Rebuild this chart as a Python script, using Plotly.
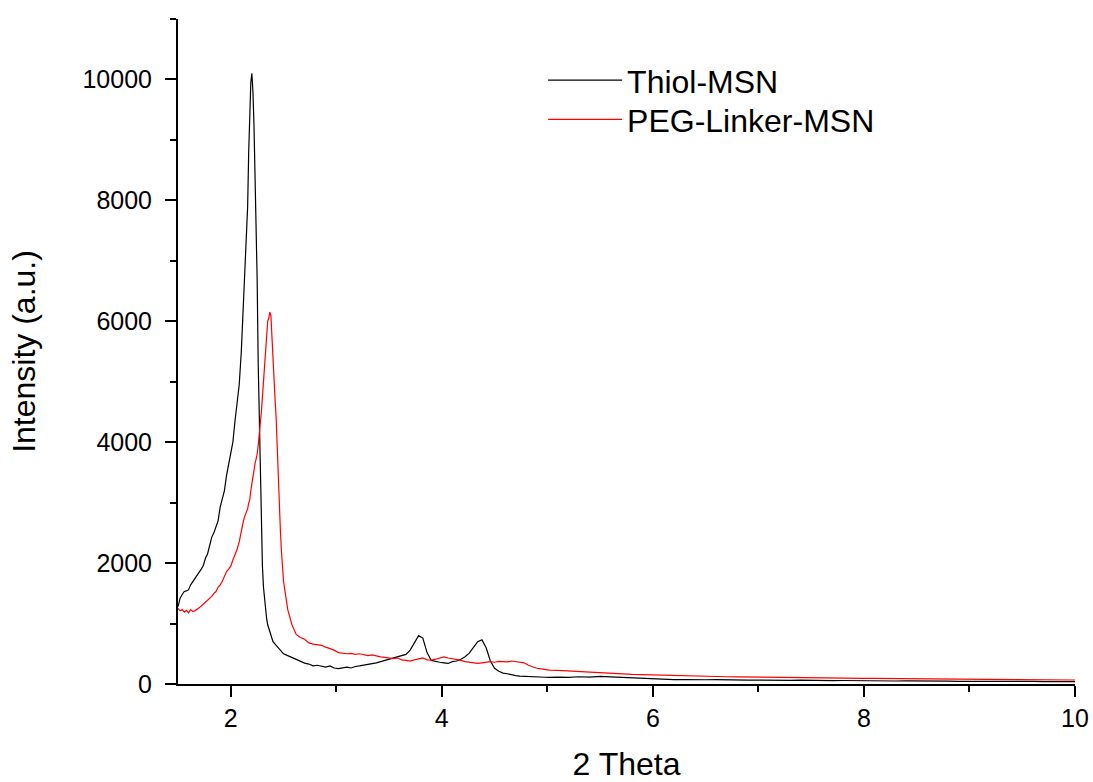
import plotly.graph_objects as go

# ---- data ----
x_a = [1.50, 1.52, 1.54, 1.56, 1.58, 1.60, 1.62, 1.64, 1.66, 1.68,
       1.70, 1.72, 1.74, 1.76, 1.78, 1.80, 1.82, 1.84, 1.86, 1.88,
       1.90, 1.92, 1.94, 1.96, 1.98, 2.00, 2.02, 2.04, 2.06, 2.08]
x_b = [2.10, 2.11, 2.12, 2.13, 2.14, 2.15, 2.16, 2.17, 2.18, 2.19,
       2.20,
       2.21, 2.22, 2.23, 2.24, 2.25, 2.26, 2.27, 2.28, 2.29, 2.30,
       2.31, 2.32, 2.33, 2.34, 2.35, 2.36, 2.37, 2.38, 2.39, 2.40,
       2.41, 2.42, 2.43, 2.44, 2.45, 2.46, 2.47, 2.48, 2.49, 2.50]
x_c = [2.54, 2.58, 2.62, 2.66, 2.70, 2.74, 2.78, 2.82, 2.86, 2.90,
       2.94, 2.98, 3.02, 3.06, 3.10, 3.14, 3.18, 3.22, 3.26, 3.30,
       3.34, 3.38, 3.42, 3.46, 3.50, 3.54, 3.58, 3.62, 3.66, 3.70,
       3.74, 3.78, 3.82, 3.86, 3.90, 3.94, 3.98, 4.02, 4.06, 4.10,
       4.14, 4.18, 4.22, 4.26, 4.30, 4.34, 4.38, 4.42, 4.46, 4.50,
       4.54, 4.58, 4.62, 4.66, 4.70, 4.74, 4.78, 4.82, 4.86, 4.90,
       4.94, 4.98, 5.02]
x_d = [5.1, 5.2, 5.3, 5.4, 5.5, 5.6, 5.7, 5.8, 5.9, 6.0,
       6.1, 6.2, 6.3, 6.4, 6.5, 6.6, 6.7, 6.8, 6.9, 7.0,
       7.1, 7.2, 7.3, 7.4, 7.5, 7.6, 7.7, 7.8, 7.9, 8.0,
       8.1, 8.2, 8.3, 8.4, 8.5, 8.6, 8.7, 8.8, 8.9, 9.0,
       9.1, 9.2, 9.3, 9.4, 9.5, 9.6, 9.7, 9.8, 9.9, 10.0]
two_theta = x_a + x_b + x_c + x_d

thiol_msn = [
    # 1.50 - 2.08
    1280, 1420, 1480, 1530, 1540, 1560, 1640, 1690, 1730, 1800,
    1830, 1900, 1960, 2080, 2150, 2320, 2430, 2500, 2620, 2700,
    2930, 3050, 3200, 3450, 3640, 3820, 4000, 4350, 4700, 4950,
    # 2.10 - 2.50
    5500, 5900, 6300, 6650, 6950, 7250, 7900, 8800, 9500, 9950,
    10100,
    9800, 9250, 8500, 7700, 6700, 5300, 4400, 3600, 2600, 1950,
    1600, 1380, 1200, 1080, 980, 920, 850, 780, 730, 700,
    680, 660, 640, 610, 590, 570, 545, 530, 515, 500,
    # 2.54 - 5.02
    470, 440, 400, 370, 345, 330, 300, 310, 290, 280,
    300, 265, 255, 270, 280, 265, 290, 300, 310, 320,
    330, 350, 370, 390, 400, 420, 440, 470, 490, 560,
    680, 800, 760, 520, 390, 370, 360, 350, 340, 370,
    380, 410, 450, 510, 600, 700, 730, 600, 380, 260,
    210, 180, 170, 150, 140, 130, 125, 120, 118, 110,
    115, 112, 108,
    # 5.1 - 10.0
    115, 110, 120, 115, 125, 118, 110, 100, 90, 80,
    75, 72, 74, 68, 70, 72, 66, 68, 64, 66,
    62, 64, 60, 63, 58, 60, 56, 58, 55, 56,
    52, 55, 50, 52, 48, 50, 46, 48, 45, 46,
    43, 45, 42, 43, 40, 42, 39, 40, 38, 38]

peg_linker_msn = [
    # 1.50 - 2.08
    1250, 1210, 1230, 1190, 1220, 1180, 1230, 1200, 1210, 1230,
    1260, 1290, 1320, 1350, 1380, 1420, 1450, 1500, 1530, 1600,
    1640, 1700, 1780, 1860, 1900, 1950, 2050, 2130, 2230, 2350,
    # 2.10 - 2.50
    2550, 2600, 2700, 2760, 2800, 2830, 2900, 2990, 3050, 3200,
    3330,
    3420, 3550, 3650, 3720, 3800, 3950, 4100, 4300, 4500, 4750,
    5000, 5280, 5550, 5800, 6000, 6050, 6150, 6100, 5700, 5250,
    4950, 4700, 4400, 3850, 3300, 2950, 2550, 2200, 1950, 1700,
    # 2.54 - 5.02
    1230, 980, 820, 770, 740, 680, 660, 650, 640, 610,
    590, 560, 520, 510, 500, 505, 490, 500, 480, 470,
    480, 460, 450, 440, 430, 420, 430, 400, 390, 380,
    400, 420, 430, 400, 395, 410, 430, 450, 430, 420,
    400, 390, 370, 360, 345, 340, 350, 360, 370, 360,
    375, 370, 365, 380, 370, 360, 350, 310, 280, 260,
    250, 240, 230,
    # 5.1 - 10.0
    225, 215, 205, 195, 180, 175, 170, 160, 155, 150,
    140, 138, 132, 130, 125, 122, 120, 118, 115, 112,
    110, 108, 105, 104, 102, 100, 98, 97, 95, 94,
    92, 90, 88, 87, 85, 84, 82, 80, 79, 78,
    76, 75, 73, 72, 71, 70, 69, 68, 67, 66]

series_names = ["Thiol-MSN", "PEG-Linker-MSN"]
series_colors = ["#000000", "#ff0000"]
x_tick_vals = [2, 4, 6, 8, 10]
y_tick_vals = [0, 2000, 4000, 6000, 8000, 10000]

FONT = "Liberation Sans, Arial, sans-serif"

fig = go.Figure()
for i, (name, yv, col) in enumerate(zip(series_names, [thiol_msn, peg_linker_msn], series_colors)):
    fig.add_trace(go.Scatter(x=two_theta, y=yv, mode="lines", name=name,
                             line=dict(color=col, width=1.2),
                             legend="legend" if i == 0 else "legend2"))

axis_common = dict(
    showline=True, linecolor="black", linewidth=2,
    ticks="outside", ticklen=11, tickwidth=2, tickcolor="black",
    showgrid=False, zeroline=False, mirror=False,
    tickfont=dict(family=FONT, size=25, color="black"),
)

legend_common = dict(xanchor="left", yanchor="top",
                     bgcolor="rgba(0,0,0,0)", borderwidth=0,
                     font=dict(family=FONT, size=32, color="black"),
                     itemwidth=74)

fig.update_layout(
    width=1093, height=782,
    margin=dict(l=178, r=18, t=19, b=98, autoexpand=False),
    paper_bgcolor="white", plot_bgcolor="white",
    font=dict(family=FONT, color="black"),
    showlegend=True,
    legend=dict(x=0.407, y=0.949, **legend_common),
    legend2=dict(x=0.407, y=0.890, **legend_common),
    xaxis=dict(range=[1.5, 10], tickvals=x_tick_vals,
               ticktext=[str(v) for v in x_tick_vals],
               minor=dict(tickvals=[3, 5, 7, 9], ticks="outside", ticklen=6,
                          tickwidth=2, tickcolor="black"),
               ticklabelstandoff=0,
               title=dict(text="2 Theta", font=dict(family=FONT, size=32), standoff=28),
               automargin=False,
               **axis_common),
    yaxis=dict(range=[0, 11000], tickvals=y_tick_vals,
               ticktext=[str(v) for v in y_tick_vals],
               minor=dict(tickvals=[1000, 3000, 5000, 7000, 9000, 11000], ticks="outside",
                          ticklen=6, tickwidth=2, tickcolor="black"),
               ticklabelstandoff=8,
               title=dict(text="Intensity (a.u.)", font=dict(family=FONT, size=32), standoff=37),
               automargin=False,
               **axis_common),
)

fig.write_html("out.html")
